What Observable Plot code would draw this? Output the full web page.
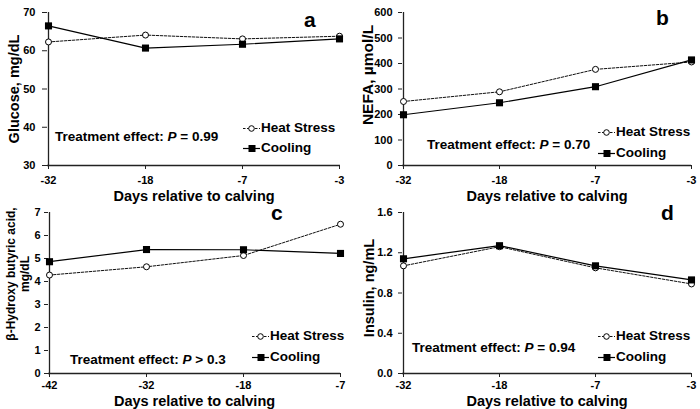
<!DOCTYPE html>
<html><head><meta charset="utf-8">
<script src="https://cdn.jsdelivr.net/npm/d3@7"></script>
<script src="https://cdn.jsdelivr.net/npm/@observablehq/plot@0.6"></script>
<style>
body{margin:0;background:#fff;}
#wrap{position:relative;width:700px;height:409px;font-family:"Liberation Sans",Arial,sans-serif;font-weight:bold;color:#000;overflow:hidden;background:#fff}
.panel{position:absolute}
.note{position:absolute;font-size:13.5px;white-space:nowrap;line-height:1}
.leg{position:absolute;font-size:13.5px;white-space:nowrap;line-height:1;display:flex;align-items:center}
.leg svg{display:block;margin-right:1px}
.letter{position:absolute;font-size:21px;line-height:1}
</style></head><body><div id="wrap"></div>
<script>
// ---- data ----
const daysABD = ["-32", "-18", "-7", "-3"];
const daysC = ["-42", "-32", "-18", "-7"];
const seriesNames = ["Heat Stress", "Cooling"];
const xTitle = "Days relative to calving";

const glucoseHeat = [62.3, 64.1, 63.1, 63.8];
const glucoseCool = [66.5, 60.7, 61.7, 63.1];
const glucoseTicks = [30, 40, 50, 60, 70];

const nefaHeat = [251, 289, 377, 406];
const nefaCool = [199, 246, 309, 414];
const nefaTicks = [0, 100, 200, 300, 400, 500, 600];

const bhbaHeat = [4.28, 4.64, 5.13, 6.49];
const bhbaCool = [4.86, 5.39, 5.38, 5.22];
const bhbaTicks = [0, 1, 2, 3, 4, 5, 6, 7];

const insulinHeat = [1.07, 1.26, 1.05, 0.89];
const insulinCool = [1.14, 1.27, 1.07, 0.93];
const insulinTicks = [0.0, 0.4, 0.8, 1.2, 1.6];

const panelsData = [
  {letter: "a", days: daysABD, heat: glucoseHeat, cool: glucoseCool, ticks: glucoseTicks, yTitle: "Glucose, mg/dL", pText: "= 0.99", fmt: d3.format("d")},
  {letter: "b", days: daysABD, heat: nefaHeat, cool: nefaCool, ticks: nefaTicks, yTitle: "NEFA, µmol/L", pText: "= 0.70", fmt: d3.format("d")},
  {letter: "c", days: daysC, heat: bhbaHeat, cool: bhbaCool, ticks: bhbaTicks, yTitle: "β-Hydroxy butyric acid,\nmg/dL", pText: "> 0.3", fmt: d3.format("d")},
  {letter: "d", days: daysABD, heat: insulinHeat, cool: insulinCool, ticks: insulinTicks, yTitle: "Insulin, ng/mL", pText: "= 0.94", fmt: d3.format(".1f")}
];

// ---- layout (styles only) ----
const layouts = [
  {left: 0, top: 0, w: 350, h: 205, mL: 47, mR: 10, mT: 12, mB: 40, yTS: 5, yTP: 7, xTP: 7, xTitleDy: 35, yTitleDx: -40, yTitleDy: 0, yTitleFs: 14.5,
   note: [55, 137], leg1: [243, 128], leg2: [243, 148], letterPos: [304, 9]},
  {left: 350, top: 0, w: 350, h: 205, mL: 52, mR: 9, mT: 12, mB: 40, yTS: 4, yTP: 6, xTP: 7, xTitleDy: 35, yTitleDx: -42, yTitleDy: -14, yTitleFs: 15.5,
   note: [427, 145], leg1: [598, 132], leg2: [598, 153], letterPos: [656, 7]},
  {left: 0, top: 205, w: 350, h: 204, mL: 48, mR: 10, mT: 7, mB: 36, yTS: 4, yTP: 4, xTP: 4, xTitleDy: 32, yTitleDx: -43, yTitleDy: -19, yTitleFs: 12,
   note: [70, 360], leg1: [252, 336], leg2: [252, 357], letterPos: [271, 202]},
  {left: 350, top: 205, w: 350, h: 204, mL: 52, mR: 9, mT: 7, mB: 36, yTS: 4, yTP: 6, xTP: 4, xTitleDy: 32, yTitleDx: -40, yTitleDy: -5, yTitleFs: 14.5,
   note: [412, 348], leg1: [598, 336], leg2: [598, 357], letterPos: [661, 202]}
];

const wrap = document.getElementById("wrap");
const font = "Liberation Sans, Arial, sans-serif";

panelsData.forEach((p, i) => {
  const L = layouts[i];
  const heat = p.days.map((d, j) => ({day: d, v: p.heat[j]}));
  const cool = p.days.map((d, j) => ({day: d, v: p.cool[j]}));
  const ymin = p.ticks[0], ymax = p.ticks[p.ticks.length - 1];
  const chart = Plot.plot({
    width: L.w, height: L.h,
    marginLeft: L.mL, marginRight: L.mR, marginTop: L.mT, marginBottom: L.mB,
    style: {fontFamily: font, fontWeight: "bold", fontSize: "11px", color: "#000", background: "transparent", overflow: "visible"},
    x: {type: "point", domain: p.days, padding: 0},
    y: {domain: [ymin, ymax]},
    marks: [
      Plot.axisX({tickSize: 4, tickPadding: L.xTP, fontSize: 11, fontWeight: "bold", label: null, stroke: "#222"}),
      Plot.axisY({ticks: p.ticks, tickSize: L.yTS, tickPadding: L.yTP, tickFormat: p.fmt, fontSize: 11, fontWeight: "bold", label: null, stroke: "#222"}),
      Plot.text([xTitle], {frameAnchor: "bottom", textAnchor: "middle", dy: L.xTitleDy, lineAnchor: "bottom", fontSize: 14.5, fontWeight: "bold", fill: "#000"}),
      Plot.text([p.yTitle], {frameAnchor: "left", textAnchor: "middle", dx: L.yTitleDx, dy: L.yTitleDy, rotate: -90, lineAnchor: "top", lineHeight: 1.15, fontSize: L.yTitleFs, fontWeight: "bold", fill: "#000"}),
      Plot.ruleX([p.days[0]], {stroke: "#222", strokeWidth: 1.3}),
      Plot.ruleY([ymin], {stroke: "#222", strokeWidth: 1.3}),
      Plot.line(heat, {x: "day", y: "v", stroke: "#111", strokeWidth: 1, strokeDasharray: "2.5,1.5"}),
      Plot.dot(heat, {x: "day", y: "v", r: 3, fill: "white", stroke: "#000", strokeWidth: 1}),
      Plot.line(cool, {x: "day", y: "v", stroke: "#000", strokeWidth: 1.2}),
      Plot.dot(cool, {x: "day", y: "v", symbol: "square", r: 4, fill: "#000", stroke: "none"})
    ]
  });
  const box = document.createElement("div");
  box.className = "panel";
  box.style.left = L.left + "px";
  box.style.top = L.top + "px";
  box.appendChild(chart);
  wrap.appendChild(box);

  const fs = 13.5;
  const note = document.createElement("div");
  note.className = "note";
  note.style.left = L.note[0] + "px";
  note.style.top = (L.note[1] - 0.49 * fs) + "px";
  note.innerHTML = "Treatment effect: <i>P</i> " + p.pText;
  wrap.appendChild(note);

  const leg1 = document.createElement("div");
  leg1.className = "leg";
  leg1.style.left = L.leg1[0] + "px";
  leg1.style.top = (L.leg1[1] - 7) + "px";
  leg1.innerHTML = '<svg width="17" height="14"><line x1="0" y1="7.5" x2="17" y2="7.5" stroke="#111" stroke-width="1" stroke-dasharray="2.5,1.5"/><circle cx="8.5" cy="7.5" r="2.8" fill="white" stroke="#000" stroke-width="1"/></svg><span>' + seriesNames[0] + '</span>';
  wrap.appendChild(leg1);

  const leg2 = document.createElement("div");
  leg2.className = "leg";
  leg2.style.left = L.leg2[0] + "px";
  leg2.style.top = (L.leg2[1] - 7) + "px";
  leg2.innerHTML = '<svg width="17" height="14"><line x1="0" y1="7.5" x2="17" y2="7.5" stroke="#000" stroke-width="1.2"/><rect x="5.5" y="4" width="7" height="7" fill="#000"/></svg><span>' + seriesNames[1] + '</span>';
  wrap.appendChild(leg2);

  const letter = document.createElement("div");
  letter.className = "letter";
  letter.style.left = L.letterPos[0] + "px";
  letter.style.top = L.letterPos[1] + "px";
  letter.textContent = p.letter;
  wrap.appendChild(letter);
});
</script></body></html>
